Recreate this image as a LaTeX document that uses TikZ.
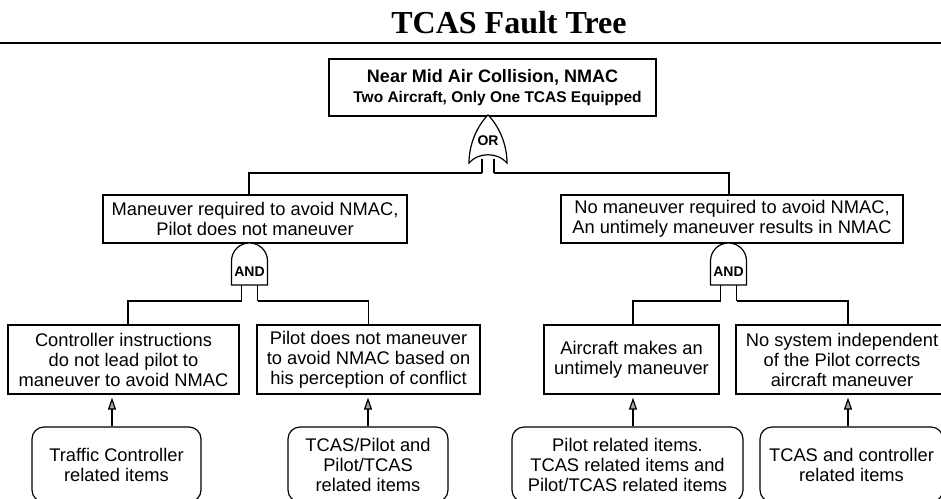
\documentclass[tikz,border=0pt]{standalone}
\usepackage{fontspec}
\setmainfont{Liberation Sans}
\newfontfamily\titlefont{Liberation Serif}
\usetikzlibrary{arrows.meta}
\begin{document}
\begin{tikzpicture}[x=1pt,y=-1pt,
  line/.style={line width=1.2pt},
  box/.style={draw, line width=1.2pt, fill=white, inner sep=0pt, align=center,
    font=\fontsize{18.3}{20}\selectfont},
  rbox/.style={box, rounded corners=12pt},
  gate/.style={draw, line width=1.2pt, fill=white},
  gatelbl/.style={font=\bfseries\fontsize{14}{15}\selectfont, inner sep=0pt},
  arr/.style={line width=1.2pt, shorten >=3pt, -{Triangle[length=12pt,width=8pt,fill=gray!70]}},
  orgate/.pic={
    \draw[line] (-6,44) -- (-6,58) (6,44) -- (6,58);
    \draw[gate] (0,0) .. controls (-10,10) and (-19,28) .. (-19,48)
       .. controls (-10,37) and (10,37) .. (19,48)
       .. controls (19,28) and (10,10) .. (0,0) -- cycle;
    \node[gatelbl] at (0,26) {OR};
  },
  andgate/.pic={
    \draw[line] (-8,40) -- (-8,58) (8,40) -- (8,58);
    \draw[gate] (-18,42) -- (-18,18) .. controls (-18,8) and (-10,0) .. (0,0)
       .. controls (10,0) and (18,8) .. (18,18) -- (18,42) -- cycle;
    \node[gatelbl] at (0,29) {AND};
  }
]
\useasboundingbox (0,0) rectangle (941,498);
\clip (0,0) rectangle (941,498);
\fill[white] (0,0) rectangle (941,498);

% title and rule
\node[font=\titlefont\bfseries\fontsize{32}{36}\selectfont, anchor=base, inner sep=0pt] (title) at (509,33) {TCAS Fault Tree};
\coordinate (ruleL) at (0,43);
\coordinate (ruleR) at (941,43);
\draw[line width=1.6pt] (ruleL) -- (ruleR);

% top event
\node[box, minimum width=327pt, minimum height=57pt] (top) at (492.5,87.5)
  {{\bfseries\fontsize{18}{19}\selectfont Near Mid Air Collision, NMAC}\\
   {\bfseries\fontsize{15.5}{19}\selectfont\hspace{10pt}Two Aircraft, Only One TCAS Equipped}};

% OR gate
\coordinate (orT) at (488,115);
\pic at (orT) {orgate};
\coordinate (orA) at (482,173);
\coordinate (orB) at (494,173);

% second level
\node[box, minimum width=304pt, minimum height=48pt] (lm) at (255,219)
  {Maneuver required to avoid NMAC,\\Pilot does not maneuver};
\node[box, minimum width=342pt, minimum height=48pt] (rm) at (732,219)
  {No maneuver required to avoid NMAC,\\An untimely maneuver results in NMAC};

\coordinate (lmc) at ([xshift=-6pt]lm.north);
\coordinate (rmc) at ([xshift=-3pt]rm.north);
\draw[line] (orA) -| (lmc);
\draw[line] (orB) -| (rmc);

% AND gates
\coordinate (andL) at (249.5,243);
\pic at (andL) {andgate};
\coordinate (aLa) at (241.5,301);
\coordinate (aLb) at (257.5,301);
\coordinate (andR) at (728.5,243);
\pic at (andR) {andgate};
\coordinate (aRa) at (720.5,301);
\coordinate (aRb) at (736.5,301);

% third level
\node[box, minimum width=231pt, minimum height=69pt] (ll) at (123.5,359.5)
  {Controller instructions\\do not lead pilot to\\maneuver to avoid NMAC};
\node[box, minimum width=223pt, minimum height=69pt] (lr) at (368.5,359.5)
  {Pilot does not maneuver\\to avoid NMAC based on\\his perception of conflict};
\node[box, minimum width=175pt, minimum height=69pt] (rl) at (631.5,359.5)
  {Aircraft makes an\\untimely maneuver};
\node[box, minimum width=212pt, minimum height=69pt] (rr) at (842,359.5)
  {No system independent\\of the Pilot corrects\\aircraft maneuver};

\coordinate (llc) at ([xshift=4.5pt]ll.north);
\coordinate (rlc) at ([xshift=1.5pt]rl.north);
\coordinate (rrc) at ([xshift=6pt]rr.north);
\draw[line] (aLa) -| (llc);
\draw[line] (aLb) -| (lr.north);
\draw[line] (aRa) -| (rlc);
\draw[line] (aRb) -| (rrc);

% bottom level
\node[rbox, minimum width=169pt, minimum height=75pt] (bll) at (116.5,464.5)
  {Traffic Controller\\related items};
\node[rbox, minimum width=160pt, minimum height=75pt] (blr) at (368,464.5)
  {TCAS/Pilot and\\Pilot/TCAS\\related items};
\node[rbox, minimum width=231pt, minimum height=75pt] (brl) at (627.5,464.5)
  {Pilot related items.\\TCAS related items and\\Pilot/TCAS related items};
\node[rbox, minimum width=183pt, minimum height=75pt] (brr) at (851.5,464.5)
  {TCAS and controller\\related items};

\coordinate (s1) at ([xshift=-4.5pt]bll.north);
\coordinate (s2) at (blr.north);
\coordinate (s3) at ([xshift=5.5pt]brl.north);
\coordinate (s4) at ([xshift=-3.5pt]brr.north);
\draw[arr] (s1) -- (s1 |- ll.south);
\draw[arr] (s2) -- (s2 |- lr.south);
\draw[arr] (s3) -- (s3 |- rl.south);
\draw[arr] (s4) -- (s4 |- rr.south);
\end{tikzpicture}
\end{document}
